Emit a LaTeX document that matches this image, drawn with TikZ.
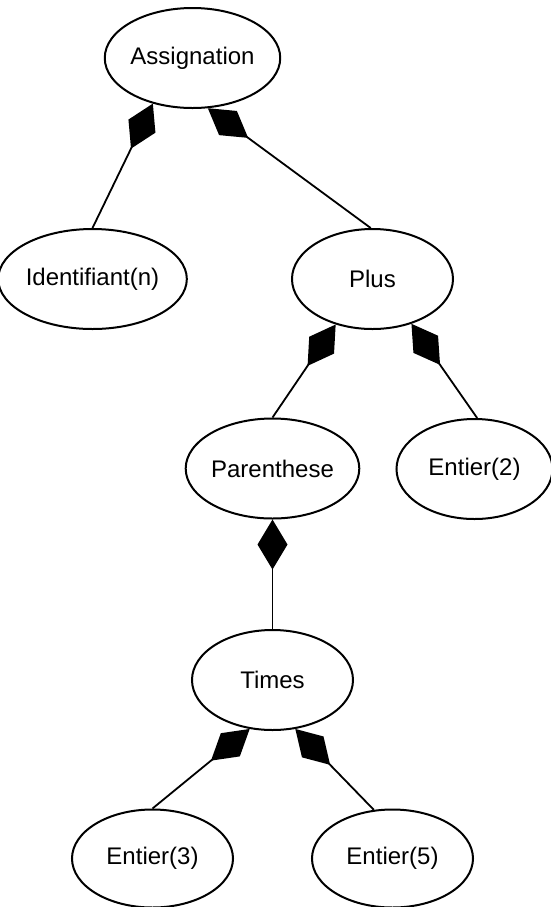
\documentclass[tikz,border=0pt]{standalone}
\usepackage{fontspec}
\setmainfont{Liberation Sans}
\usetikzlibrary{arrows.meta,shapes.geometric}
\begin{document}
\begin{tikzpicture}[x=0.5pt,y=-0.5pt,
  cls/.style={draw, ellipse, line width=1pt, minimum width=80.5pt, minimum height=50pt, inner sep=0pt, font=\fontsize{12}{14}\selectfont},
  comp/.style={line width=0.9pt, {Diamond[length=25pt,width=15pt]}-}]
\useasboundingbox (0,0) rectangle (551,907);
\node[cls] (as) at (192.5,58) {Assignation};
\node[cls] (id) at (92.5,279) {Identifiant(n)};
\node[cls] (pl) at (372.5,279) {Plus};
\node[cls] (pa) at (272.5,468.5) {Parenthese};
\node[cls, minimum width=78pt] (e2) at (474.5,469) {Entier(2)};
\node[cls] (ti) at (272.5,680) {Times};
\node[cls, minimum height=49pt] (e3) at (152.5,858.5) {Entier(3)};
\node[cls, minimum height=49pt] (e5) at (392.5,858.5) {Entier(5)};
\draw[comp] (as.229) -- (id.90);
\draw[comp] (as.287) -- (pl.92);
\draw[comp] (pl.231) -- (pa.90);
\draw[comp] (pl.311) -- (e2.87);
\draw[comp] (pa.270) -- (ti.90);
\draw[comp] (ti.245) -- (e3.90);
\draw[comp] (ti.295) -- (e5.111);
\end{tikzpicture}
\end{document}
